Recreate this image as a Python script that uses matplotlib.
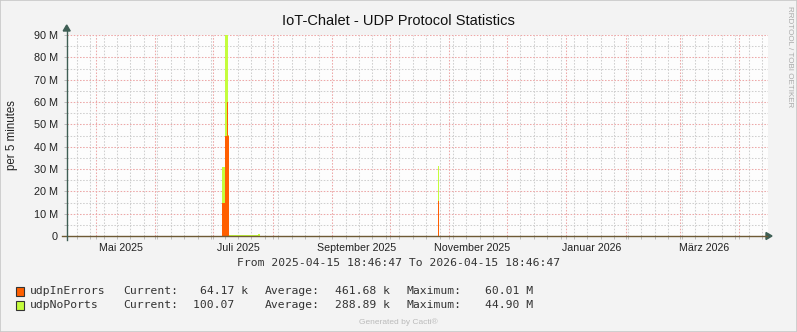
import matplotlib
matplotlib.use('Agg')
import matplotlib.pyplot as plt
import matplotlib.dates as mdates
from matplotlib.patches import Rectangle, Polygon
import pandas as pd

# ---------------- data (values in millions) ----------------
title = "IoT-Chalet - UDP Protocol Statistics"
start = "2025-04-15 18:46:47"
end = "2026-04-15 18:46:47"

times = ["2025-04-15 18:46", "2025-07-05 22:00", "2025-07-07 04:00", "2025-07-08 05:00",
         "2025-07-08 17:00", "2025-07-09 10:00", "2025-07-24 12:00", "2025-07-25 12:00",
         "2025-10-26 00:00", "2025-10-26 21:00", "2026-04-15 18:46"]
udpInErrors = [0.06, 15, 45, 60, 45, 0.06, 0.06, 0.06, 15.6, 0.06, 0.06]
udpNoPorts = [0.0001, 16, 44.9, 44.9, 0.3, 0.2, 0.9, 0.1, 15.9, 0.1, 0.1]

yticks = [0, 10, 20, 30, 40, 50, 60, 70, 80, 90]
ytick_labels = ["0", "10 M", "20 M", "30 M", "40 M", "50 M", "60 M", "70 M", "80 M", "90 M"]
xlabel_dates = ["2025-05-14", "2025-07-14", "2025-09-14", "2025-11-13", "2026-01-14", "2026-03-14"]
xlabel_texts = ["Mai 2025", "Juli 2025", "September 2025", "November 2025", "Januar 2026", "März 2026"]

legend_names = ["udpInErrors", "udpNoPorts"]
legend_current = ["64.17 k", "100.07  "]
legend_average = ["461.68 k", "288.89 k"]
legend_maximum = ["60.01 M", "44.90 M"]
colors = ["#FF5F00", "#C4FD3D"]

# ---------------- figure ----------------
W, H = 797, 332
fig = plt.figure(figsize=(W / 100, H / 100), dpi=100, facecolor="#F3F3F3")
L, R, T, B = 66.7, 767.5, 35, 236
ax = fig.add_axes([L / W, 1 - B / H, (R - L) / W, (B - T) / H])
ax.set_facecolor("#FDFDFD")

t = pd.to_datetime(times)
e = pd.Series(udpInErrors).values
n = pd.Series(udpNoPorts).values
ax.fill_between(t, 0, e, step="post", color=colors[0], lw=0, zorder=3)
ax.fill_between(t, e, e + n, step="post", color=colors[1], lw=0, zorder=3)

ax.set_xlim(pd.Timestamp(start), pd.Timestamp(end))
ax.set_ylim(0, 90)
ax.set_axisbelow(True)

# grids
ax.xaxis.set_major_locator(mdates.MonthLocator())
ax.xaxis.set_minor_locator(mdates.WeekdayLocator(byweekday=mdates.MO))
ax.xaxis.set_major_formatter(plt.NullFormatter())
ax.set_yticks(yticks)
ax.set_yticks([5, 15, 25, 35, 45, 55, 65, 75, 85], minor=True)
ax.set_yticklabels(ytick_labels, fontsize=7.8, family="Liberation Sans", color="#222222")
ax.grid(which="minor", color="#CFCFCF", lw=0.75, ls=(0, (1.5, 1.5)), zorder=1)
ax.grid(which="major", color="#EDA8A8", lw=0.75, ls=(0, (1.5, 1.5)), zorder=2)
ax.tick_params(axis="y", which="both", length=2.5, width=0.7, color="#BBBBBB", pad=4)
ax.tick_params(axis="x", which="both", length=2.5, width=0.7, color="#BBBBBB", pad=2)
for s in ax.spines.values():
    s.set_visible(False)

# x labels
for d, txt in zip(xlabel_dates, xlabel_texts):
    ax.text(pd.Timestamp(d), -0.035, txt, transform=ax.get_xaxis_transform(), ha="center",
            va="top", fontsize=7.7, family="Liberation Sans", color="#222222")

# axes with arrows (figure pixel coordinates)
def fx(x):
    return x / W

def fy(y):
    return 1 - y / H

axcol = "#3E5E54"
fig.add_artist(plt.Line2D([fx(62), fx(767)], [fy(236), fy(236)], color="#6E5A35", lw=1.0))
fig.add_artist(plt.Line2D([fx(66.7), fx(66.7)], [fy(240), fy(30)], color=axcol, lw=1.0))
fig.add_artist(Polygon([[fx(766), fy(232.5)], [fx(766), fy(239.5)], [fx(772), fy(236)]],
                       closed=True, color=axcol, transform=fig.transFigure))
fig.add_artist(Polygon([[fx(63.2), fy(31)], [fx(70.2), fy(31)], [fx(66.7), fy(25)]],
                       closed=True, color=axcol, transform=fig.transFigure))

# title and axis labels
fig.text(0.5, fy(21), title, ha="center", va="center", fontsize=10.5,
         family="Liberation Sans", color="#111111")
fig.text(fx(12), fy(135), "per 5 minutes", rotation=90, ha="center", va="center",
         fontsize=8.3, family="Liberation Sans", color="#222222")
fig.text(fx(789), fy(6), "RRDTOOL / TOBI OETIKER", rotation=270, ha="center", va="top",
         fontsize=5.8, family="Liberation Sans", color="#AAAAAA")
fig.text(0.5, fy(263), "From 2025-04-15 18:46:47 To 2026-04-15 18:46:47", ha="center",
         va="center", fontsize=8.2, family="DejaVu Sans Mono", color="#333333")

# legend
mono = dict(fontsize=8.2, family="DejaVu Sans Mono", color="#333333", va="center")
for i in range(2):
    y = 291 + i * 14
    fig.add_artist(Rectangle((fx(15.5), fy(y + 4.5)), 8 / W, 8.5 / H, transform=fig.transFigure,
                             facecolor=colors[i], edgecolor="#333333", lw=0.8))
    fig.text(fx(30), fy(y), legend_names[i], ha="left", **mono)
    fig.text(fx(123), fy(y), "Current:", ha="left", **mono)
    fig.text(fx(248), fy(y), legend_current[i], ha="right", **mono)
    fig.text(fx(265), fy(y), "Average:", ha="left", **mono)
    fig.text(fx(390), fy(y), legend_average[i], ha="right", **mono)
    fig.text(fx(407), fy(y), "Maximum:", ha="left", **mono)
    fig.text(fx(533), fy(y), legend_maximum[i], ha="right", **mono)

fig.text(0.5, fy(322), "Generated by Cacti®", ha="center", va="center", fontsize=6.0,
         family="Liberation Sans", color="#BBBBBB")

# outer border
fig.add_artist(Rectangle((0, 0), 1, 1, transform=fig.transFigure, fill=False,
                         edgecolor="#C8C8C8", lw=1.2))

fig.savefig("out.png", dpi=100, facecolor=fig.get_facecolor())
